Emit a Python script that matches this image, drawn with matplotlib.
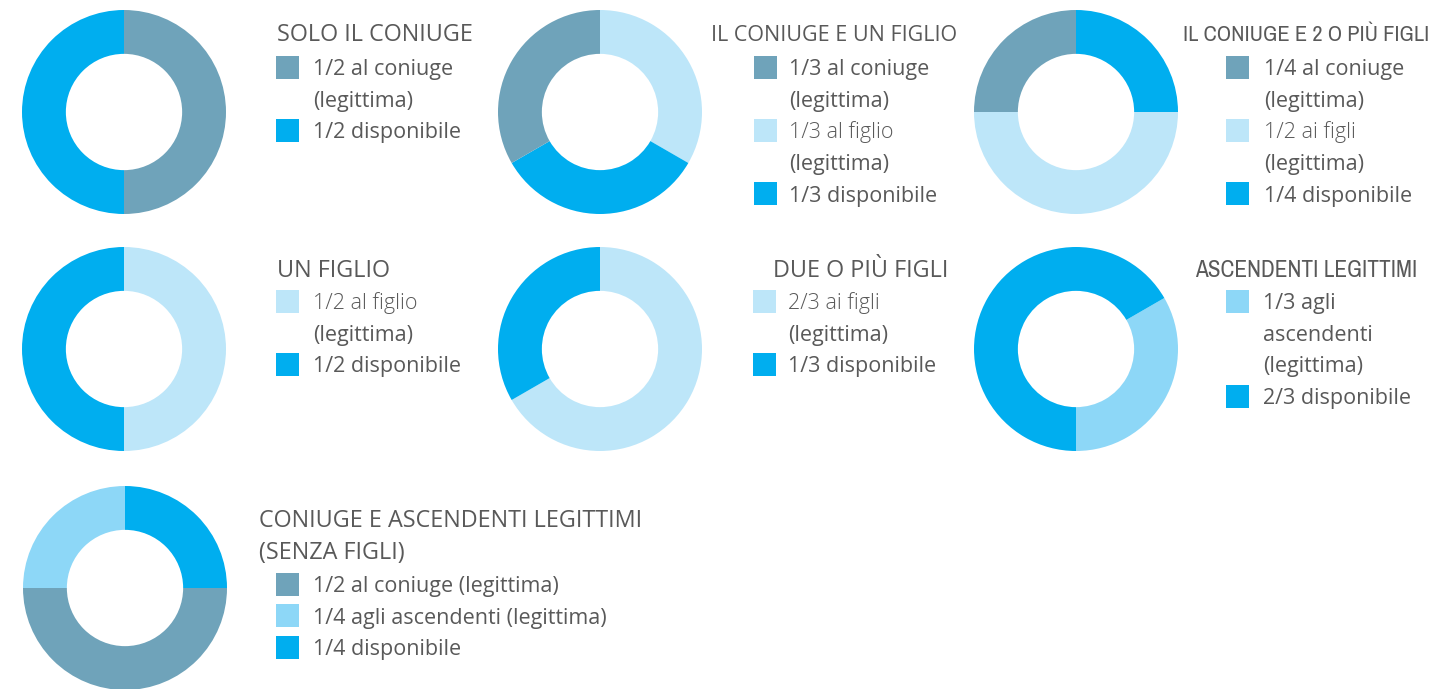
import matplotlib
matplotlib.use('Agg')
import matplotlib.pyplot as plt
from matplotlib.patches import Rectangle
from matplotlib import font_manager

W, H = 1433, 689

C_CONIUGE = '#6fa3ba'
C_DISP = '#00aeef'
C_FIGLI = '#bde6f9'
C_ASC = '#8dd7f7'
TXT = '#595959'

# data, one entry per donut (legend order)
titles = ['SOLO IL CONIUGE', 'IL CONIUGE E UN FIGLIO', 'IL CONIUGE E 2 O PIÙ FIGLI',
          'UN FIGLIO', 'DUE O PIÙ FIGLI', 'ASCENDENTI LEGITTIMI',
          'CONIUGE E ASCENDENTI LEGITTIMI\n(SENZA FIGLI)']
labels = [
    ['1/2 al coniuge\n(legittima)', '1/2 disponibile'],
    ['1/3 al coniuge\n(legittima)', '1/3 al figlio\n(legittima)', '1/3 disponibile'],
    ['1/4 al coniuge\n(legittima)', '1/2 ai figli\n(legittima)', '1/4 disponibile'],
    ['1/2 al figlio\n(legittima)', '1/2 disponibile'],
    ['2/3 ai figli\n(legittima)', '1/3 disponibile'],
    ['1/3 agli\nascendenti\n(legittima)', '2/3 disponibile'],
    ['1/2 al coniuge (legittima)', '1/4 agli ascendenti (legittima)', '1/4 disponibile'],
]
shares = [
    [1/2, 1/2],
    [1/3, 1/3, 1/3],
    [1/4, 1/2, 1/4],
    [1/2, 1/2],
    [2/3, 1/3],
    [1/3, 2/3],
    [1/2, 1/4, 1/4],
]
colors = [
    [C_CONIUGE, C_DISP],
    [C_CONIUGE, C_FIGLI, C_DISP],
    [C_CONIUGE, C_FIGLI, C_DISP],
    [C_FIGLI, C_DISP],
    [C_FIGLI, C_DISP],
    [C_ASC, C_DISP],
    [C_CONIUGE, C_ASC, C_DISP],
]
# order of the slices clockwise and start angle
pie_order = [[0, 1], [1, 2, 0], [2, 1, 0], [0, 1], [0, 1], [0, 1], [2, 0, 1]]
start = [90, 90, 90, 90, 90, 30, 90]

# layout in pixels (title y = baseline of first line)
centers = [(124, 112), (600, 112), (1076, 112), (124, 349), (600, 349), (1076, 349), (125, 588)]
title_pos = [(277, 41), (711, 41), (1183, 41), (277, 277), (773, 277), (1195, 277), (259, 527)]
title_w = [None, 246, 245, None, None, 233, None]   # squeezed titles
sq_x = [276, 754, 1226, 276, 753, 1226, 276]
txt_x = [313, 789, 1264, 313, 788, 1263, 313]
line_y0 = [67, 67, 67, 301, 301, 301, 584]
R = 102
STEP = 31.7
FONT = 'Open Sans'

# a condensed regular face for the squeezed titles, if there is one
narrow = [f.name for f in font_manager.fontManager.ttflist
          if ('Narrow' in f.name or 'Condensed' in f.name)
          and f.weight in (300, 400, 'normal', 'light', 'regular') and f.style == 'normal']
NARROW = narrow[0] if narrow else FONT

fig = plt.figure(figsize=(W / 100, H / 100), dpi=100)
renderer = fig.canvas.get_renderer()


def fx(x):
    return x / W


def fy(y):
    return 1 - y / H


for i in range(len(titles)):
    cx, cy = centers[i]
    ax = fig.add_axes([fx(cx - R), fy(cy + R), 2 * R / W, 2 * R / H])
    vals = [shares[i][k] for k in pie_order[i]]
    cols = [colors[i][k] for k in pie_order[i]]
    ax.pie(vals, colors=cols, startangle=start[i], counterclock=False,
           wedgeprops=dict(width=0.43, linewidth=0))
    ax.set_xlim(-1, 1)
    ax.set_ylim(-1, 1)
    ax.set_aspect('auto')
    ax.axis('off')

    tx, ty = title_pos[i]
    fam = NARROW if title_w[i] and i != 1 else FONT
    for k, tline in enumerate(titles[i].split('\n')):
        t = fig.text(fx(tx), fy(ty + k * 32), tline, ha='left', va='baseline', color=TXT,
                     family=fam, fontsize=16.8, fontweight='normal')
        if title_w[i]:
            w = t.get_window_extent(renderer).width
            t.set_fontsize(min(16.8, 16.8 * title_w[i] / w))

    n = 0
    for j, lab in enumerate(labels[i]):
        y = line_y0[i] + n * STEP
        fig.patches.append(Rectangle((fx(sq_x[i]), fy(y + 11.5)), 23 / W, 23 / H,
                                     transform=fig.transFigure, facecolor=colors[i][j],
                                     edgecolor='none'))
        for k, line in enumerate(lab.split('\n')):
            light = k == 0 and 'fig' in line
            fig.text(fx(txt_x[i]), fy(line_y0[i] + n * STEP + 8), line, ha='left',
                     va='baseline', color=TXT, family=FONT, fontsize=15.5,
                     fontweight='light' if light else 'normal')
            n += 1

fig.savefig('out.png', dpi=100)
